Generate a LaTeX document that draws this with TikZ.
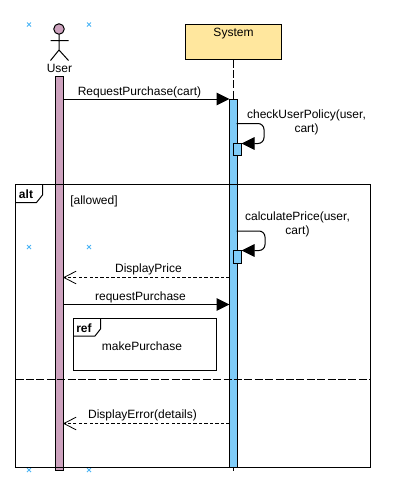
\documentclass[tikz,border=0pt]{standalone}
\usepackage{fontspec}
\setmainfont{Liberation Sans}
\usetikzlibrary{arrows.meta, calc, positioning}
\definecolor{userfill}{HTML}{CDA2BE}
\definecolor{sysfill}{HTML}{7FCCF8}
\definecolor{boxfill}{HTML}{FFE79E}
\definecolor{markblue}{HTML}{4DB5F5}
\def \u {0.75pt}
\tikzset{
    lbl/.style={inner sep=0pt, outer sep=0pt, align=center, font=\fontsize{9}{10.5}\selectfont},
    bar/.style={draw, inner sep=0pt, outer sep=0pt, line width=\u},
    syncmsg/.style={line width=\u, -{Triangle[length=9.75pt,width=9.5pt]}},
    retmsg/.style={line width=\u, dash pattern=on 2.5pt off 1.6pt, -{Straight Barb[length=9.2pt,width=9.5pt,line width=.6pt]}},
    loopmsg/.style={syncmsg, rounded corners=4.5pt},
    frameline/.style={line width=\u},
    longdash/.style={line width=\u, dash pattern=on 6pt off 1.8pt}
}
\begin{document}
\begin{tikzpicture}[x=\u, y=-\u]
    \useasboundingbox (0,0) rectangle (406,483);
    % guide marks
    \foreach \x in {29,89}{
    \foreach \y in {24.5,247,470}{
    \draw[markblue, line width=.6pt] (\x-2,\y-2) -- (\x+2,\y+2) (\x-2,\y+2) -- (\x+2,\y-2);}}
    % actor
    \node[bar, circle, fill=userfill, minimum size=10.5*\u] (head) at (59,29) {};
    \coordinate (hip) at (59,50);
    \coordinate (armL) at (50.5,40.5);
    \coordinate (armR) at (68.5,40.5);
    \coordinate (footL) at (50.5,60.5);
    \coordinate (footR) at (68.5,60.5);
    \draw[line width=\u] (head) -- (hip) (armL) -- (armR) (footL) -- (hip) -- (footR);
    \node[lbl] (user) at (59.5,68) {User};
    % lifelines
    \node[bar, fill=boxfill, minimum width=96*\u, minimum height=35*\u] (sys) at (233.5,42) {};
    \node[lbl, below=3pt of sys.north] (systxt) {System};
    \node[bar, fill=sysfill, minimum width=8*\u, minimum height=368.5*\u] (sysbar) at (233.5,283.25) {};
    \coordinate (sysend) at (233.5,471);
    \draw[longdash] (sys) -- (sysbar);
    \draw[line width=\u] (sysbar) -- (sysend);
    \node[bar, fill=userfill, minimum width=7.5*\u, minimum height=393.5*\u] (userbar) at (59.25,273.25) {};
    % self calls
    \node[bar, fill=sysfill, minimum width=8*\u, minimum height=12*\u] (checkbox) at (237.5,149.5) {};
    \node[bar, fill=sysfill, minimum width=8*\u, minimum height=13*\u] (pricebox) at (237.5,257) {};
    \coordinate (check0) at (236.5,123.5);
    \coordinate (check1) at (264,143.5);
    \coordinate (price0) at (236.5,231);
    \coordinate (price1) at (265,250.5);
    \draw[loopmsg] (check0) -| (check1) -- (checkbox.north east);
    \draw[loopmsg] (price0) -| (price1) -- (pricebox.north east);
    \node[lbl] (checklbl) at (306.5,122) {checkUserPolicy(user,\\cart)};
    \node[lbl] (pricelbl) at (297.5,224.5) {calculatePrice(user,\\cart)};
    % messages
    \draw[syncmsg] (userbar.east |- 0,99) -- (sysbar.west |- 0,99);
    \draw[retmsg] (sysbar.west |- 0,277.5) -- (userbar.east |- 0,277.5);
    \draw[syncmsg] (userbar.east |- 0,304.5) -- (sysbar.west |- 0,304.5);
    \draw[retmsg] (sysbar.west |- 0,423.5) -- (userbar.east |- 0,423.5);
    \node[lbl] (reqlbl) at (139.5,92) {RequestPurchase(cart)};
    \node[lbl] (pricemsg) at (148.5,269) {DisplayPrice};
    \node[lbl] (buylbl) at (140.5,297.5) {requestPurchase};
    \node[lbl] (errlbl) at (142.5,415) {DisplayError(details)};
    % alt frame
    \draw[frameline] (15.5,184.5) rectangle (370.5,467.5);
    \draw[frameline] (15.5,202.5) -- (36.5,202.5) -- (42.5,195) -- (42.5,184.5);
    \draw[longdash] (15.5,379.5) -- (370.5,379.5);
    \node[lbl, font=\fontsize{9}{10.5}\selectfont\bfseries] (alttxt) at (26,194.5) {alt};
    \node[lbl] (guard) at (94,201) {[allowed]};
    % ref frame
    \draw[frameline] (73,318.5) rectangle (216,370.5);
    \draw[frameline] (73,336) -- (95,336) -- (100.5,329) -- (100.5,318.5);
    \node[lbl, font=\fontsize{9}{10.5}\selectfont\bfseries] (reftxt) at (84,328) {ref};
    \node[lbl] (refname) at (142,346.5) {makePurchase};
\end{tikzpicture}
\end{document}
